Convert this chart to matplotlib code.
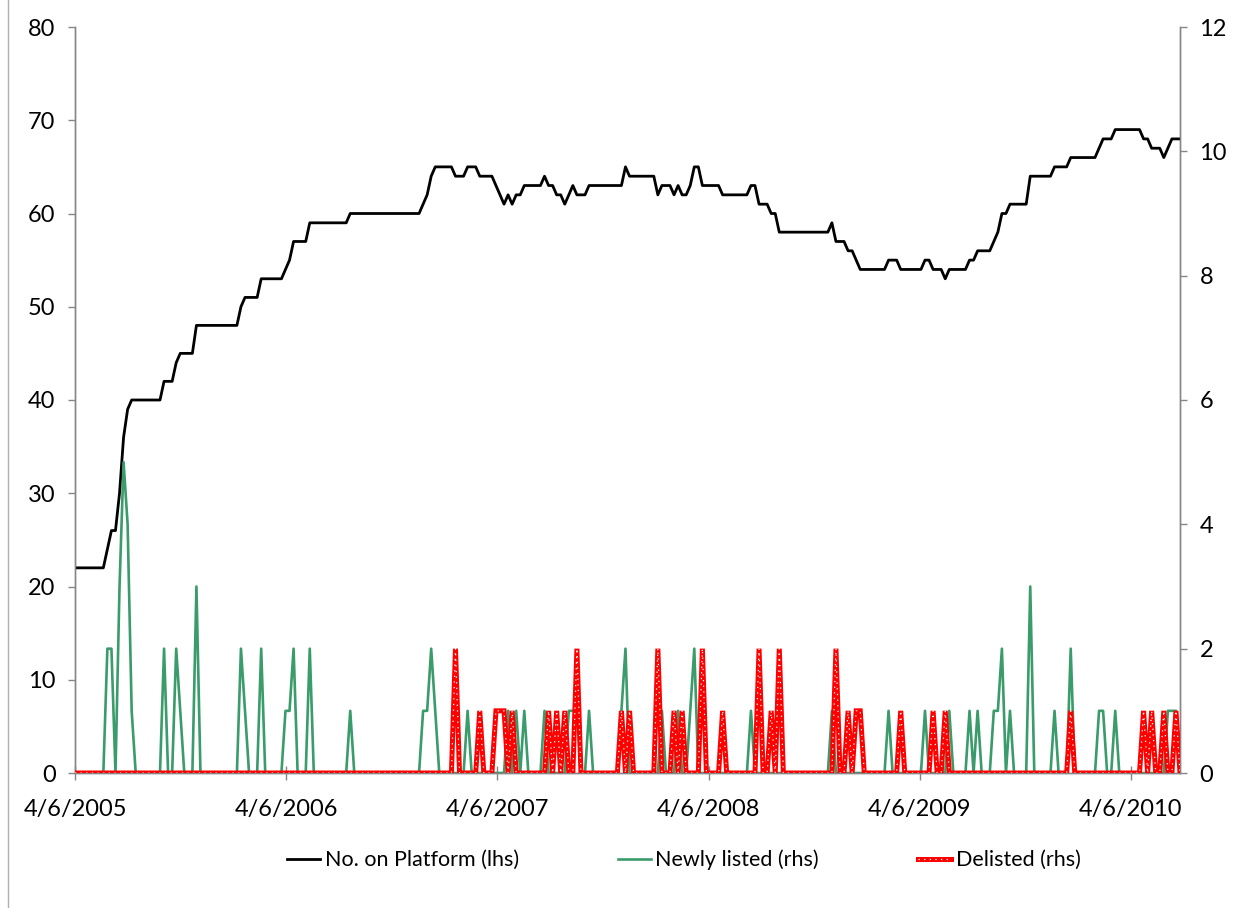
import numpy as np
import pandas as pd
import matplotlib
matplotlib.use('Agg')
import matplotlib.pyplot as plt
from matplotlib.lines import Line2D

plt.rcParams['font.family'] = ['Lato', 'DejaVu Sans']

# weekly observations starting 4/6/2005
dates = pd.date_range('2005-04-06', periods=274, freq='7D')

platform = [22,22,22,22,22,22,22,22,24,26, 26,30,36,39,40,40,40,40,40,40,
            40,40,42,42,42,44,45,45,45,45, 48,48,48,48,48,48,48,48,48,48,
            48,50,51,51,51,51,53,53,53,53, 53,53,54,55,57,57,57,57,59,59,
            59,59,59,59,59,59,59,59,60,60, 60,60,60,60,60,60,60,60,60,60,
            60,60,60,60,60,60,61,62,64,65, 65,65,65,65,64,64,64,65,65,65,
            64,64,64,64,63,62,61,62,61,62, 62,63,63,63,63,63,64,63,63,62,
            62,61,62,63,62,62,62,63,63,63, 63,63,63,63,63,63,65,64,64,64,
            64,64,64,64,62,63,63,63,62,63, 62,62,63,65,65,63,63,63,63,63,
            62,62,62,62,62,62,62,63,63,61, 61,61,60,60,58,58,58,58,58,58,
            58,58,58,58,58,58,58,59,57,57, 57,56,56,55,54,54,54,54,54,54,
            54,55,55,55,54,54,54,54,54,54, 55,55,54,54,54,53,54,54,54,54,
            54,55,55,56,56,56,56,57,58,60, 60,61,61,61,61,61,64,64,64,64,
            64,64,65,65,65,65,66,66,66,66, 66,66,66,67,68,68,68,69,69,69,
            69,69,69,69,68,68,67,67,67,66, 67,68,68,68]

newly_listed = [0,0,0,0,0,0,0,0,2,2, 0,3,5,4,1,0,0,0,0,0,
                0,0,2,0,0,2,1,0,0,0, 3,0,0,0,0,0,0,0,0,0,
                0,2,1,0,0,0,2,0,0,0, 0,0,1,1,2,0,0,0,2,0,
                0,0,0,0,0,0,0,0,1,0, 0,0,0,0,0,0,0,0,0,0,
                0,0,0,0,0,0,1,1,2,1, 0,0,0,0,0,0,0,1,0,0,
                0,0,0,0,0,0,0,1,0,1, 0,1,0,0,0,0,1,0,0,0,
                0,0,1,1,1,0,0,1,0,0, 0,0,0,0,0,1,2,0,0,0,
                0,0,0,0,0,1,0,0,0,1, 0,0,1,2,0,0,0,0,0,0,
                0,0,0,0,0,0,0,1,0,0, 0,0,0,0,0,0,0,0,0,0,
                0,0,0,0,0,0,0,1,0,0, 0,0,0,0,0,0,0,0,0,0,
                0,1,0,0,0,0,0,0,0,0, 1,0,0,0,0,0,1,0,0,0,
                0,1,0,1,0,0,0,1,1,2, 0,1,0,0,0,0,3,0,0,0,
                0,0,1,0,0,0,2,0,0,0, 0,0,0,1,1,0,0,1,0,0,
                0,0,0,0,0,0,0,0,0,0, 1,1,1,0]

delisted = [0,0,0,0,0,0,0,0,0,0, 0,0,0,0,0,0,0,0,0,0,
            0,0,0,0,0,0,0,0,0,0, 0,0,0,0,0,0,0,0,0,0,
            0,0,0,0,0,0,0,0,0,0, 0,0,0,0,0,0,0,0,0,0,
            0,0,0,0,0,0,0,0,0,0, 0,0,0,0,0,0,0,0,0,0,
            0,0,0,0,0,0,0,0,0,0, 0,0,0,0,2,0,0,0,0,0,
            1,0,0,0,1,1,1,0,1,0, 0,0,0,0,0,0,0,1,0,1,
            0,1,0,0,2,0,0,0,0,0, 0,0,0,0,0,1,0,1,0,0,
            0,0,0,0,2,0,0,0,1,0, 1,0,0,0,0,2,0,0,0,0,
            1,0,0,0,0,0,0,0,0,2, 0,0,1,0,2,0,0,0,0,0,
            0,0,0,0,0,0,0,0,2,0, 0,1,0,1,1,0,0,0,0,0,
            0,0,0,0,1,0,0,0,0,0, 0,0,1,0,0,1,0,0,0,0,
            0,0,0,0,0,0,0,0,0,0, 0,0,0,0,0,0,0,0,0,0,
            0,0,0,0,0,0,1,0,0,0, 0,0,0,0,0,0,0,0,0,0,
            0,0,0,0,1,0,1,0,0,1, 0,0,1,0]

tick_dates = pd.to_datetime(['2005-04-06', '2006-04-06', '2007-04-06',
                             '2008-04-06', '2009-04-06', '2010-04-06'])
tick_labels = ['4/6/2005', '4/6/2006', '4/6/2007', '4/6/2008', '4/6/2009', '4/6/2010']

axis_grey = '#868686'
green = '#3a9b6b'
red = '#ff0000'

fig = plt.figure(figsize=(12.5, 9.08), dpi=100)
ax = fig.add_axes([75/1250, 1-773/908, (1180-75)/1250, (773-27)/908])
ax2 = ax.twinx()

l1, = ax.plot(dates, platform, color='black', lw=2.0, zorder=3)
l2, = ax2.plot(dates, newly_listed, color=green, lw=1.9, zorder=2)
l3, = ax2.plot(dates, delisted, color=red, lw=3.6, zorder=3, solid_joinstyle='miter')
l3w, = ax2.plot(dates, delisted, color='white', lw=0.9, ls=(0, (1, 3.5)), zorder=4)

ax.set_ylim(0, 80)
ax.set_yticks(np.arange(0, 81, 10))
ax2.set_ylim(0, 12)
ax2.set_yticks(np.arange(0, 13, 2))
ax.set_xlim(dates[0], dates[-1])
ax.set_xticks(tick_dates)
ax.set_xticklabels(tick_labels)

for a in (ax, ax2):
    a.spines['top'].set_visible(False)
    for s in ('left', 'right', 'bottom'):
        a.spines[s].set_color(axis_grey)
        a.spines[s].set_linewidth(1.0)
    a.tick_params(colors=axis_grey, labelcolor='black', labelsize=17, width=1.0)
    a.patch.set_visible(False)

ax.tick_params(axis='y', direction='out', length=5, pad=9)
ax2.tick_params(axis='y', direction='out', length=5, pad=9)
ax.tick_params(axis='x', direction='inout', length=10, pad=14)

ax2.set_zorder(ax.get_zorder() + 1)

# left border of the chart area
fig.add_artist(Line2D([8/1250, 8/1250], [0, 1], color='#b0b0b0', lw=1.0))

leg = fig.legend([l1, l2, (l3, l3w)],
                 ['No. on Platform (lhs)', 'Newly listed (rhs)', 'Delisted (rhs)'],
                 loc='center', bbox_to_anchor=(0.547, 1-860/908), ncol=3,
                 frameon=False, fontsize=15.5, handlelength=1.55,
                 handletextpad=0.2, columnspacing=4.6)

fig.savefig('out.png', dpi=100)
